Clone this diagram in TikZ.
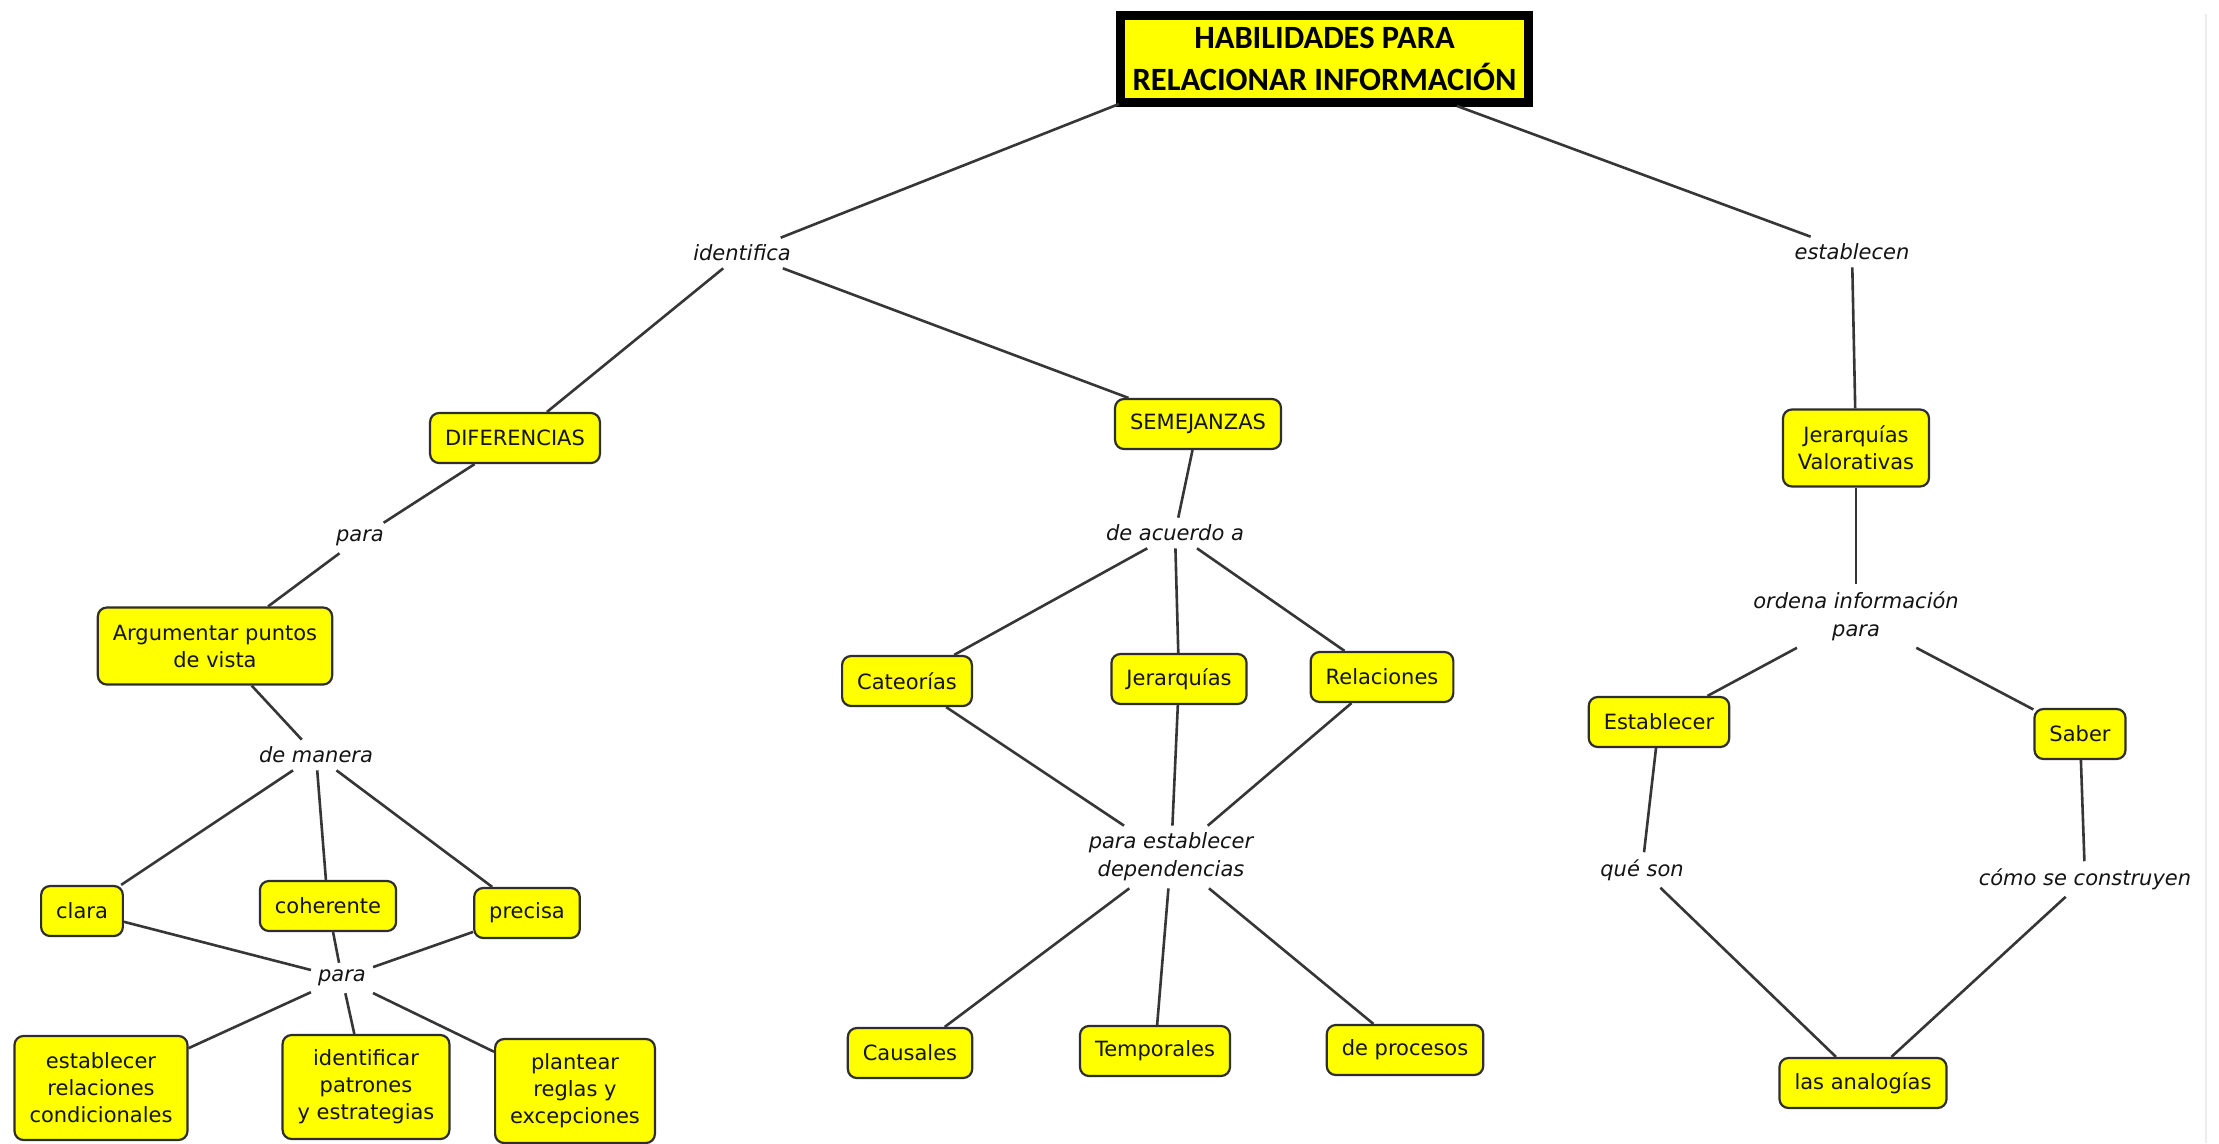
\documentclass[tikz,border=0pt]{standalone}
\usepackage{fontspec}
\setmainfont{DejaVu Sans}
\newfontfamily\titlefont{Carlito}
\usetikzlibrary{calc}

\definecolor{cmyellow}{HTML}{FFFF00}
\definecolor{boxline}{HTML}{2E2E2E}
\definecolor{linegray}{HTML}{363636}
\definecolor{inkgray}{HTML}{141414}

\newcommand\boxfont{\fontsize{21}{27}\selectfont}
\newcommand\linkfont{\fontsize{21}{28}\selectfont\itshape}

\tikzset{
  concept/.style={draw=boxline, fill=cmyellow, rounded corners=9pt, line width=2.2pt,
    inner xsep=15pt, inner ysep=0pt, minimum height=50pt, align=center,
    font=\boxfont, text=inkgray},
  twoline/.style={minimum height=77pt},
  threeline/.style={minimum height=104pt},
  linkword/.style={font=\linkfont, inner sep=7pt, align=center, text=inkgray},
  conn/.style={draw=linegray, line width=2.6pt}
}

\begin{document}
\begin{tikzpicture}[x=1pt,y=-1pt]
\useasboundingbox (0,0) rectangle (2219,1143);
\fill[white] (0,0) rectangle (2219,1143);
% faint frame edge on the right
\draw[black!7, line width=2pt] (2206,14) -- (2206,1143);

% root concept
\node[draw=black, fill=cmyellow, line width=9pt, minimum width=408pt, minimum height=87pt,
      inner sep=0pt, align=center, text=black,
      font=\titlefont\bfseries\fontsize{32.5}{42}\selectfont]
  (title) at (1324.5,59) {HABILIDADES PARA\\RELACIONAR INFORMACIÓN};

% linking words
\node[linkword] (identifica) at (742,253) {identifica};
\node[linkword] (establecen) at (1852,252) {establecen};
\node[linkword] (para1) at (360,538) {para};
\node[linkword] (demanera) at (316,755) {de manera};
\node[linkword] (para2) at (342,978) {para};
\node[linkword] (deacuerdo) at (1175,533) {de acuerdo a};
\node[linkword] (dependencias) at (1171,857) {para establecer\\dependencias};
\node[linkword] (ordena) at (1856,616) {ordena información\\para};
\node[linkword] (queson) at (1642,870) {qué son};
\node[linkword] (comose) at (2085,879) {cómo se construyen};

% concepts
\node[concept] (diferencias) at (515,438) {DIFERENCIAS};
\node[concept, twoline] (argumentar) at (215,646) {Argumentar puntos\\de vista};
\node[concept] (clara) at (82,911) {clara};
\node[concept] (coherente) at (328,906) {coherente};
\node[concept] (precisa) at (527,913) {precisa};
\node[concept, threeline] (condicionales) at (101,1088) {establecer\\relaciones\\condicionales};
\node[concept, threeline] (patrones) at (366,1087) {identificar\\patrones\\y estrategias};
\node[concept, threeline] (reglas) at (575,1091) {plantear\\reglas y\\excepciones};

\node[concept] (semejanzas) at (1198,424) {SEMEJANZAS};
\node[concept] (categorias) at (907,681) {Cateorías};
\node[concept] (jerarquias) at (1179,679) {Jerarquías};
\node[concept] (relaciones) at (1382,677) {Relaciones};
\node[concept] (causales) at (910,1053) {Causales};
\node[concept] (temporales) at (1155,1051) {Temporales};
\node[concept] (procesos) at (1405,1050) {de procesos};

\node[concept, twoline] (valorativas) at (1856,448) {Jerarquías\\Valorativas};
\node[concept] (establecer) at (1659,722) {Establecer};
\node[concept] (saber) at (2080,734) {Saber};
\node[concept] (analogias) at (1863,1083) {las analogías};

% connectors
\coordinate (rootL) at (1119,104);
\coordinate (rootR) at (1457,106);
\draw[conn] (rootL) -- (identifica);
\draw[conn] (rootR) -- (establecen);

\draw[conn] (identifica) -- (diferencias);
\draw[conn] (identifica) -- (semejanzas);

\draw[conn] (diferencias) -- (para1);
\draw[conn] (para1) -- (argumentar);
\draw[conn] (argumentar) -- (demanera);
\draw[conn] (demanera) -- (clara);
\draw[conn] (demanera) -- (coherente);
\draw[conn] (demanera) -- (precisa);
\draw[conn] (clara) -- (para2);
\draw[conn] (coherente) -- (para2);
\draw[conn] (precisa) -- (para2);
\draw[conn] (para2) -- (condicionales);
\draw[conn] (para2) -- (patrones);
\draw[conn] (para2) -- (reglas);

\draw[conn] (semejanzas) -- (deacuerdo);
\draw[conn] (deacuerdo) -- (categorias);
\draw[conn] (deacuerdo) -- (jerarquias);
\draw[conn] (deacuerdo) -- (relaciones);
\draw[conn] (categorias) -- (dependencias);
\draw[conn] (jerarquias) -- (dependencias);
\draw[conn] (relaciones) -- (dependencias);
\draw[conn] (dependencias) -- (causales);
\draw[conn] (dependencias) -- (temporales);
\draw[conn] (dependencias) -- (procesos);

\draw[conn] (establecen) -- (valorativas);
\draw[conn] (valorativas) -- (ordena);
\draw[conn] (ordena) -- (establecer);
\draw[conn] (ordena) -- (saber);
\draw[conn] (establecer) -- (queson);
\draw[conn] (saber) -- (comose);
\draw[conn] (queson) -- (analogias);
\draw[conn] (comose) -- (analogias);
\end{tikzpicture}
\end{document}
